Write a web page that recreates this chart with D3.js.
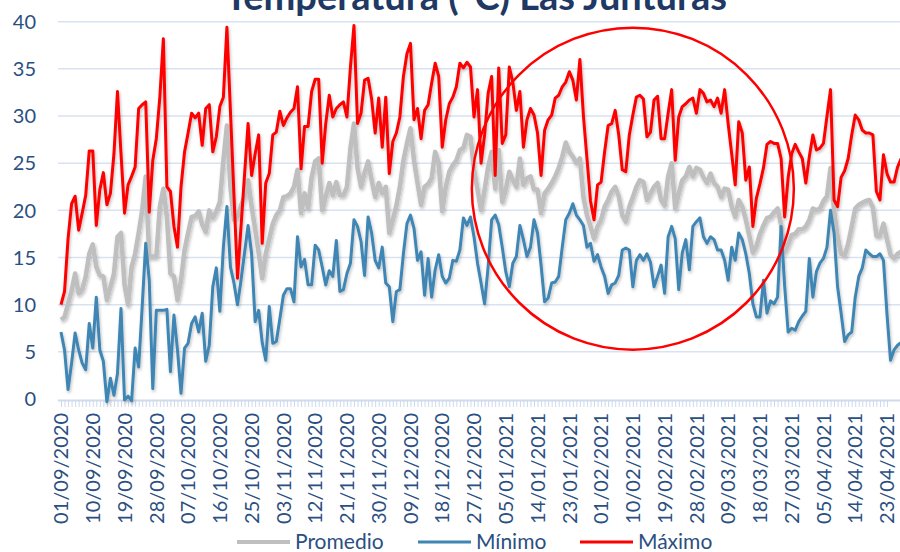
<!DOCTYPE html>
<html>
<head>
<meta charset="utf-8">
<script src="https://cdn.jsdelivr.net/npm/d3@7"></script>
<style>
  body { margin: 0; background: #fff; }
  text { font-family: Lato, "Open Sans", sans-serif; }
</style>
</head>
<body>
<div id="chart"></div>
<script>
// Daily values from 01/09/2020
const startDate = "2020-09-01";

const promedio = [
  8.4, 8.7, 10.1, 11.5, 13.3, 11.2, 11.6, 13, 15.4, 16.4,
  14, 13.1, 13, 10.5, 11.9, 13.3, 17.2, 17.6, 12.1, 10.0,
  14, 15.4, 17.6, 20, 23.6, 15.1, 15.1, 15.1, 20.4, 22.3,
  19.3, 13.3, 13, 10.5, 12.6, 15.8, 17.6, 19.3, 19.4, 19.9,
  18.5, 17.7, 20.0, 19.2, 19.9, 20.9, 25.3, 29.0, 22.5, 19.0,
  19.3, 20.5, 21.5, 23.2, 20.4, 18, 15.5, 12.8, 15.4, 17,
  18.6, 19.5, 20.0, 21.4, 21.5, 21.8, 22.5, 24.3, 19.7, 21.8,
  20.2, 23.5, 25.2, 25.5, 20.0, 21.5, 22.9, 21.6, 23.0, 21.6,
  21.6, 22.5, 26.6, 29.2, 24.5, 22.5, 24, 25.2, 23.2, 21.4,
  22.9, 21.8, 22.5, 17.6, 19.0, 20.5, 22.5, 25.3, 27.1, 28.7,
  25.3, 22.9, 20.6, 22.5, 22.8, 23.4, 26.2, 25.0, 19.9, 22.5,
  24.1, 24.8, 25.3, 26.4, 26.6, 28.0, 27.8, 24.3, 22.2, 20.0,
  22.2, 24.6, 26.2, 22.3, 26.4, 20.9, 22.2, 24.1, 23.2, 22.5,
  25.5, 22.7, 23.4, 23.6, 22.2, 22.2, 19.7, 21.8, 22.3, 22.9,
  23.6, 24.5, 25.7, 27.2, 26.2, 25.7, 25.0, 25.5, 21.4, 19.5,
  18.3, 17.0, 18.3, 19.0, 20.4, 21.1, 22.0, 22.5, 21.5, 19.5,
  18.8, 20.4, 21.4, 22.5, 23.2, 23.0, 21.1, 21.8, 22.5, 22.9,
  21.1, 20.5, 23.6, 25.0, 20.2, 21.8, 23.2, 23.6, 24.6, 23.6,
  24.5, 24.3, 23.5, 22.9, 23.9, 22.9, 22.5, 21.4, 22.3, 22.2,
  20.4, 19.3, 21.1, 20.4, 19.0, 17.3, 15.5, 16.2, 17.5, 18.4,
  19.2, 19.3, 19.8, 20.2, 18.5, 15.6, 16.4, 17.4, 17.5, 18.0,
  18.0, 18.3, 19.0, 20.2, 20.0, 20.2, 21.0, 21.5, 24.5, 20.0,
  17.2, 15.4, 15.2, 16.5, 18.3, 20.2, 20.6, 20.8, 21.0, 21.1,
  20.3, 17.3, 17.3, 18.6, 16.9, 15.3, 14.9, 15.4, 15.6
];

const minimo = [
  7.1, 5.2, 1.0, 3.8, 7.0, 5.2, 3.8, 3.1, 8.0, 5.4,
  10.8, 5.2, 4.0, -0.3, 2.2, 0.4, 2.7, 9.6, -0.1, 0.3,
  -0.2, 5.4, 3.4, 9.8, 16.5, 12.6, 1.1, 9.4, 9.4, 9.4,
  9.5, 2.9, 8.9, 5.2, 0.6, 5.4, 5.9, 8.0, 8.7, 7.1,
  9.1, 4.0, 5.7, 11.9, 13.9, 9.3, 16.1, 20.4, 14.0, 12.3,
  10.0, 12.6, 15.5, 18.4, 15.4, 8.2, 9.4, 6, 4.1, 9.8,
  5.9, 6.1, 8.5, 11.0, 11.7, 11.7, 10.3, 17.2, 14.0, 14.8,
  12.1, 12.1, 16.3, 15.8, 14, 12.1, 13.6, 13.0, 16.8, 11.4,
  11.6, 13.3, 14.4, 19.0, 18.3, 16.7, 13.1, 19.3, 17.6, 14.7,
  13.9, 16.1, 12.3, 11.9, 8.2, 11.4, 11.6, 15.4, 18.6, 19.5,
  18.1, 14.7, 15.6, 11.0, 14.9, 10.8, 13.7, 15.3, 13.0, 12.3,
  12.8, 14.7, 14.6, 15.8, 19.2, 18.4, 19.3, 17.2, 14.4, 12.3,
  10.1, 14.0, 19.0, 19.5, 18.5, 16.1, 13.5, 11.9, 14.4, 15.1,
  18.4, 16.9, 15.1, 16.1, 19.0, 17.6, 14.2, 10.3, 10.7, 12.3,
  12.4, 13.0, 16.1, 19.0, 19.7, 20.7, 19.5, 19.0, 18.4, 16.1,
  16.5, 14.6, 15.3, 14.0, 13.0, 11.2, 12.1, 12.3, 13.1, 15.8,
  16.0, 15.8, 11.9, 14.7, 15.3, 14.7, 15.4, 14.5, 11.9, 13,
  14.2, 11.2, 17.2, 18.3, 17, 11.6, 15.5, 16.9, 13.7, 18.3,
  18.8, 19.2, 17.2, 16.5, 17.2, 16.9, 15.8, 15.8, 14.7, 12.6,
  16.1, 14.7, 17.6, 16.9, 15.4, 13.3, 10.1, 8.7, 8.7, 12.6,
  9.1, 10.4, 10.1, 10.8, 18.3, 12, 7.1, 7.5, 7.3, 8.2,
  8.8, 9.3, 14.9, 10.8, 13.5, 14.4, 14.9, 16.1, 20.0, 17.6,
  11.9, 9.1, 6.1, 6.8, 7.1, 10.8, 13.0, 13.9, 15.8, 15.4,
  15.1, 15.1, 15.4, 14.7, 9, 4.1, 5.2, 5.7, 6.0
];

const maximo = [
  10.0, 11.4, 17, 20.7, 21.5, 17.9, 19.7, 21.6, 26.3, 26.3,
  18.4, 22.2, 24.0, 20.6, 21.8, 26.0, 32.6, 26, 19.7, 22.7,
  23.6, 24.6, 30.8, 31.2, 31.5, 19.8, 25.3, 27.6, 32, 38.2,
  22.5, 22, 18.3, 16.1, 22.5, 26.2, 28.2, 30.3, 29.8, 30.3,
  26.9, 30.8, 31.2, 26.2, 27.8, 31, 32, 39.4, 30.5, 21.6,
  12.8, 18.3, 23.8, 29.2, 23.7, 26, 28.0, 16.5, 22.9, 23.9,
  28.0, 28.3, 30.5, 29.0, 29.8, 30.4, 30.8, 33.1, 24.4, 28.9,
  28.9, 32.6, 33.9, 33.9, 25, 29.2, 32.2, 29.9, 30.8, 31.2,
  31.5, 29.9, 35.2, 39.6, 29.2, 30.3, 33.8, 34.0, 31.8, 28.2,
  31.9, 26.7, 32.0, 23.9, 27.3, 28.2, 29.9, 34.2, 36.6, 37.7,
  29.6, 30.8, 27.6, 30.6, 31.2, 33.5, 35.6, 34.2, 26.7, 29.6,
  31.3, 32.0, 33.1, 35.6, 35.1, 35.7, 35.2, 29.9, 32.8, 25.0,
  28, 32.4, 34.2, 23.7, 35.1, 27.1, 28.0, 35.2, 33.6, 30.6,
  32.6, 26.7, 29.6, 30.8, 30.1, 28.2, 23.7, 28.5, 29.6, 30.1,
  31.9, 32.2, 33.1, 33.6, 34.7, 33.8, 31.7, 36.0, 30, 25.5,
  21, 19.0, 22.7, 23.0, 26.2, 29.0, 29.2, 30.6, 28, 24.3,
  24.1, 28.0, 30.1, 32.0, 32.2, 31.8, 27.8, 28.3, 31.7, 32.1,
  27.6, 27.6, 30.3, 32.8, 25.3, 29.9, 31.0, 31.3, 31.7, 31.9,
  30.3, 32.8, 32.4, 31.5, 31.7, 31.0, 31.9, 30.3, 32.8, 29.2,
  26, 22.7, 29.4, 28.2, 23.2, 24.6, 18.3, 21.3, 22.8, 24.5,
  27, 27.3, 27.1, 27.1, 25.5, 19.3, 23.5, 26, 27, 26.2,
  25.5, 22.9, 25.7, 28, 26.4, 26.6, 27.1, 30, 32.8, 21.1,
  20.4, 23.5, 24.2, 25.5, 28, 30.1, 29.6, 28.5, 28.2, 28.2,
  28.0, 22.0, 21.1, 25.9, 23.9, 23.0, 23.0, 24.6, 25.5
];

const tickLabels = [
  "01/09/2020", "10/09/2020", "19/09/2020", "28/09/2020", "07/10/2020", "16/10/2020",
  "25/10/2020", "03/11/2020", "12/11/2020", "21/11/2020", "30/11/2020", "09/12/2020",
  "18/12/2020", "27/12/2020", "05/01/2021", "14/01/2021", "23/01/2021", "01/02/2021",
  "10/02/2021", "19/02/2021", "28/02/2021", "09/03/2021", "18/03/2021", "27/03/2021",
  "05/04/2021", "14/04/2021", "23/04/2021"
];
const yTicks = [0, 5, 10, 15, 20, 25, 30, 35, 40];

const seriesNames = ["Promedio", "Mínimo", "Máximo"];
const seriesColors = ["#bfbfbf", "#4086b4", "#ff0000"];

const width = 900, height = 552;
const plot = {left: 61, right: 887, top: 21.7, bottom: 399};

const parseDay = d3.utcParse("%d/%m/%Y");
const start = d3.utcParse("%Y-%m-%d")(startDate);
const dates = promedio.map((_, i) => d3.utcDay.offset(start, i));
const tickDates = tickLabels.map(parseDay);

const svg = d3.select("#chart")
  .append("svg")
  .attr("width", width)
  .attr("height", height);

const defs = svg.append("defs");
const shadow = defs.append("filter").attr("id", "shadow")
  .attr("x", "-5%").attr("y", "-5%").attr("width", "110%").attr("height", "115%");
shadow.append("feDropShadow")
  .attr("dx", 1).attr("dy", 2).attr("stdDeviation", 1.5)
  .attr("flood-color", "#000").attr("flood-opacity", 0.25);

const x = d3.scaleUtc()
  .domain([start, tickDates[tickDates.length - 1]])
  .range([plot.left, plot.right]);

const y = d3.scaleLinear()
  .domain([0, 40])
  .range([plot.bottom, plot.top]);

// Gridlines
svg.append("g")
  .selectAll("line")
  .data(yTicks.filter(d => d > 0))
  .join("line")
  .attr("x1", plot.left - 3)
  .attr("x2", width)
  .attr("y1", d => y(d))
  .attr("y2", d => y(d))
  .attr("stroke", "#d9e2f1")
  .attr("stroke-width", 1.5);

// Y axis labels
svg.append("g")
  .selectAll("text")
  .data(yTicks)
  .join("text")
  .attr("x", 36)
  .attr("y", d => y(d))
  .attr("dy", "0.36em")
  .attr("text-anchor", "end")
  .attr("font-size", "20px")
  .attr("fill", "#2b4f81")
  .text(d => d);

// X axis: daily tick marks
const xAxis = svg.append("g")
  .attr("transform", `translate(0,${plot.bottom + 1})`)
  .call(d3.axisBottom(x)
    .ticks(d3.utcDay.every(1))
    .tickSize(7)
    .tickFormat(""));
xAxis.select(".domain")
  .attr("d", `M${plot.left - 3},0.5H${width}`)
  .attr("stroke", "#d0dbec")
  .attr("stroke-width", 2);
xAxis.selectAll(".tick line").attr("stroke", "#cdd9ec").attr("stroke-width", 1);

// X labels, rotated
svg.append("g")
  .selectAll("text")
  .data(tickDates)
  .join("text")
  .attr("transform", d => `translate(${x(d)},413) rotate(-90)`)
  .attr("dy", "0.36em")
  .attr("text-anchor", "end")
  .attr("font-size", "20px")
  .attr("fill", "#2b4f81")
  .text((d, i) => tickLabels[i]);

// Lines
const line = d3.line()
  .x((d, i) => x(dates[i]))
  .y(d => y(d));

const seriesData = [promedio, minimo, maximo];
const widths = [4.5, 3, 3];

svg.append("g")
  .attr("filter", "url(#shadow)")
  .selectAll("path")
  .data(seriesData)
  .join("path")
  .attr("d", line)
  .attr("fill", "none")
  .attr("stroke", (d, i) => seriesColors[i])
  .attr("stroke-width", (d, i) => widths[i])
  .attr("stroke-linejoin", "round");

// Annotation circle
svg.append("circle")
  .attr("cx", x(d3.utcDay.offset(start, 162)))
  .attr("cy", y(22.3))
  .attr("r", 161)
  .attr("fill", "none")
  .attr("stroke", "#ff0000")
  .attr("stroke-width", 2.5);

// Title (partially cut off at top, as in the original)
svg.append("text")
  .attr("x", 476)
  .attr("y", 10)
  .attr("text-anchor", "middle")
  .attr("font-size", "38px")
  .attr("font-weight", "bold")
  .attr("fill", "#203864")
  .text("Temperatura (°C) Las Junturas");

// Legend
const legendX = [237, 418, 580];
const legend = svg.append("g")
  .selectAll("g")
  .data(seriesNames)
  .join("g")
  .attr("transform", (d, i) => `translate(${legendX[i]},542)`);
legend.append("line")
  .attr("x1", 0).attr("x2", 53)
  .attr("stroke", (d, i) => seriesColors[i])
  .attr("stroke-width", (d, i) => i === 0 ? 4 : 3);
legend.append("text")
  .attr("x", 58)
  .attr("y", 7)
  .attr("font-size", "21px")
  .attr("fill", "#2b4f81")
  .text(d => d);
</script>
</body>
</html>
